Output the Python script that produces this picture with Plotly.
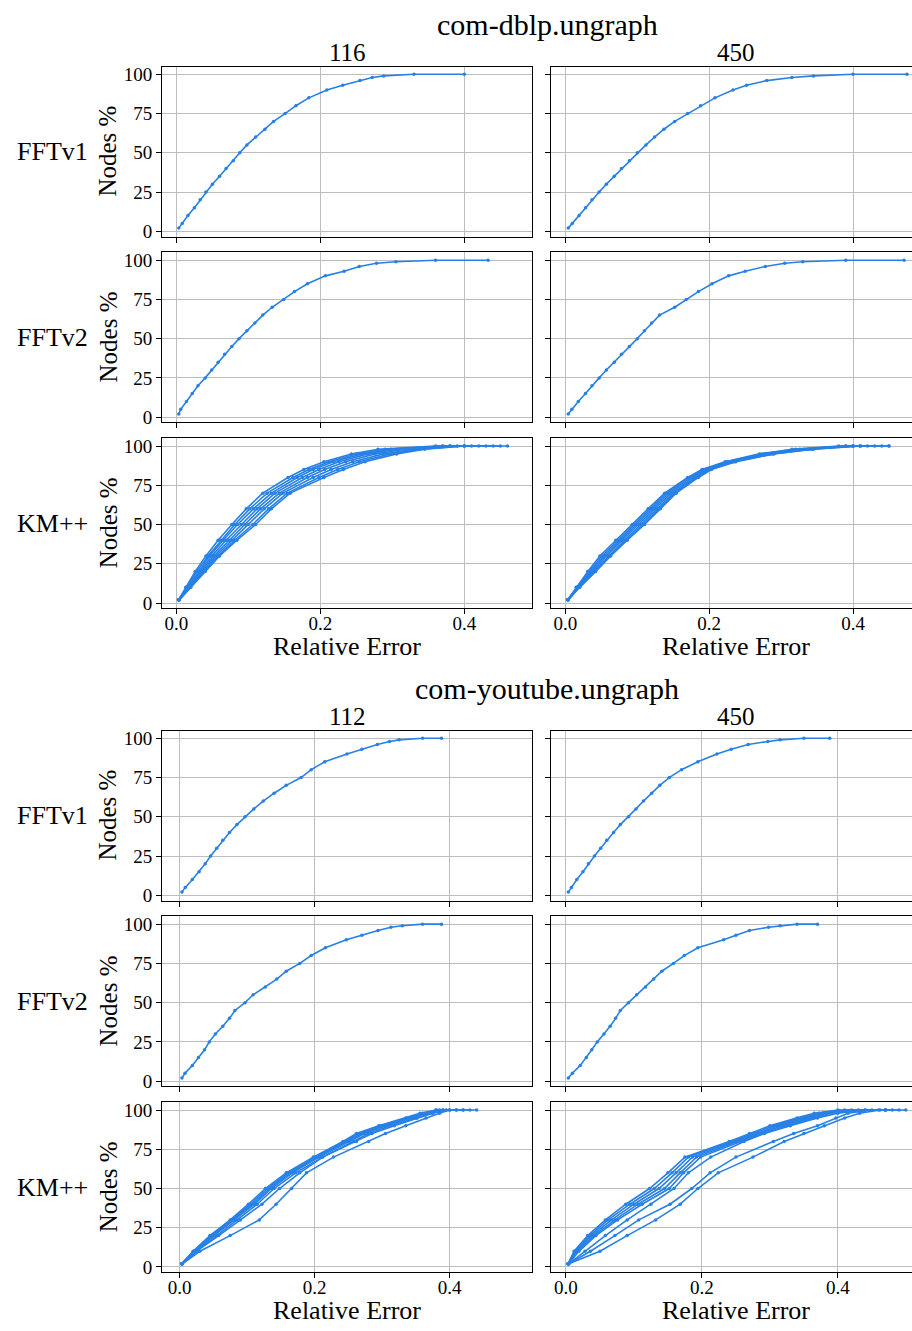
import plotly.graph_objects as go

# ---------------- data ----------------
FFT_LEVELS = [2, 5, 10, 15, 20, 25, 30, 35, 40, 45, 50, 55, 60, 65, 70, 75, 80, 85, 90, 93, 96, 98, 99, 100, 100]
KM_LEVELS = [2, 10, 20, 30, 40, 50, 60, 70, 80, 85, 90, 95, 98, 100, 100]

GROUPS = ["com-dblp.ungraph", "com-youtube.ungraph"]
COLUMNS = {"com-dblp.ungraph": ["116", "450"], "com-youtube.ungraph": ["112", "450"]}
METHODS = ["FFTv1", "FFTv2", "KM++"]
X_TICKS = [0.0, 0.2, 0.4]
X_TICK_LABELS = ["0.0", "0.2", "0.4"]
Y_TICKS = [0, 25, 50, 75, 100]
Y_TICK_LABELS = ["0", "25", "50", "75", "100"]

dblp_116_fftv1 = [0.0033, 0.008, 0.016, 0.025, 0.033, 0.041, 0.050, 0.060, 0.069, 0.079, 0.088, 0.098, 0.110,
                  0.123, 0.135, 0.151, 0.166, 0.184, 0.209, 0.231, 0.255, 0.272, 0.288, 0.33, 0.40]
dblp_450_fftv1 = [0.004, 0.0095, 0.019, 0.028, 0.037, 0.047, 0.057, 0.068, 0.078, 0.089, 0.100, 0.112, 0.124,
                  0.137, 0.152, 0.170, 0.188, 0.208, 0.233, 0.252, 0.280, 0.315, 0.345, 0.40, 0.475]
dblp_116_fftv2 = [0.0033, 0.006, 0.014, 0.022, 0.030, 0.040, 0.049, 0.058, 0.067, 0.077, 0.087, 0.098, 0.109,
                  0.120, 0.133, 0.149, 0.164, 0.182, 0.207, 0.233, 0.254, 0.278, 0.305, 0.36, 0.433]
dblp_450_fftv2 = [0.004, 0.009, 0.018, 0.028, 0.037, 0.047, 0.057, 0.068, 0.078, 0.089, 0.100, 0.110, 0.120,
                  0.131, 0.152, 0.168, 0.185, 0.204, 0.227, 0.250, 0.278, 0.305, 0.33, 0.39, 0.471]
yt_112_fftv1 = [0.0035, 0.0085, 0.019, 0.029, 0.038, 0.046, 0.055, 0.064, 0.074, 0.085, 0.097, 0.110, 0.124,
                0.140, 0.158, 0.180, 0.195, 0.215, 0.248, 0.270, 0.293, 0.311, 0.325, 0.36, 0.388]
yt_450_fftv1 = [0.0035, 0.008, 0.016, 0.025, 0.033, 0.042, 0.051, 0.060, 0.070, 0.080, 0.092, 0.103, 0.114,
                0.126, 0.138, 0.152, 0.170, 0.194, 0.222, 0.243, 0.268, 0.297, 0.315, 0.35, 0.388]
yt_112_fftv2 = [0.0035, 0.008, 0.019, 0.028, 0.037, 0.044, 0.053, 0.064, 0.074, 0.082, 0.097, 0.109, 0.127,
                0.144, 0.158, 0.178, 0.195, 0.216, 0.247, 0.270, 0.294, 0.313, 0.33, 0.36, 0.388]
yt_450_fftv2 = [0.0035, 0.0095, 0.021, 0.030, 0.038, 0.046, 0.056, 0.065, 0.073, 0.080, 0.092, 0.104, 0.117,
                0.129, 0.141, 0.158, 0.174, 0.194, 0.232, 0.250, 0.270, 0.298, 0.315, 0.34, 0.37]

dblp_116_kmpp = [
    [0.003, 0.013, 0.026, 0.041, 0.058, 0.077, 0.097, 0.120, 0.155, 0.177, 0.205, 0.243, 0.280, 0.36, 0.38],
    [0.003, 0.014, 0.028, 0.044, 0.062, 0.081, 0.102, 0.126, 0.162, 0.184, 0.212, 0.250, 0.290, 0.37, 0.40],
    [0.003, 0.015, 0.030, 0.046, 0.065, 0.085, 0.107, 0.132, 0.168, 0.190, 0.218, 0.258, 0.298, 0.37, 0.41],
    [0.003, 0.016, 0.032, 0.049, 0.069, 0.090, 0.112, 0.137, 0.175, 0.198, 0.226, 0.266, 0.308, 0.38, 0.42],
    [0.004, 0.017, 0.034, 0.052, 0.073, 0.095, 0.117, 0.143, 0.182, 0.206, 0.235, 0.276, 0.318, 0.38, 0.43],
    [0.004, 0.018, 0.036, 0.055, 0.077, 0.100, 0.122, 0.148, 0.190, 0.215, 0.245, 0.288, 0.330, 0.39, 0.44],
    [0.004, 0.019, 0.038, 0.058, 0.081, 0.106, 0.128, 0.154, 0.198, 0.224, 0.254, 0.298, 0.338, 0.40, 0.45],
    [0.004, 0.020, 0.040, 0.060, 0.084, 0.110, 0.132, 0.158, 0.205, 0.232, 0.262, 0.306, 0.345, 0.40, 0.46],
]
dblp_450_kmpp = [
    [0.003, 0.015, 0.031, 0.048, 0.070, 0.093, 0.115, 0.138, 0.170, 0.190, 0.222, 0.270, 0.315, 0.38, 0.40],
    [0.003, 0.016, 0.033, 0.051, 0.073, 0.096, 0.118, 0.141, 0.172, 0.192, 0.225, 0.274, 0.320, 0.39, 0.41],
    [0.003, 0.017, 0.035, 0.054, 0.076, 0.099, 0.121, 0.144, 0.175, 0.195, 0.228, 0.278, 0.326, 0.39, 0.42],
    [0.004, 0.018, 0.037, 0.057, 0.079, 0.102, 0.124, 0.147, 0.178, 0.197, 0.230, 0.281, 0.332, 0.40, 0.43],
    [0.004, 0.018, 0.039, 0.060, 0.082, 0.105, 0.127, 0.150, 0.181, 0.200, 0.233, 0.285, 0.338, 0.40, 0.44],
    [0.004, 0.019, 0.040, 0.062, 0.084, 0.108, 0.130, 0.152, 0.183, 0.202, 0.235, 0.288, 0.342, 0.41, 0.45],
    [0.004, 0.020, 0.042, 0.063, 0.086, 0.110, 0.132, 0.154, 0.185, 0.203, 0.237, 0.290, 0.345, 0.41, 0.45],
]
yt_112_kmpp = [
    [0.003, 0.020, 0.045, 0.075, 0.102, 0.127, 0.158, 0.198, 0.242, 0.262, 0.295, 0.335, 0.356, 0.38, 0.40],
    [0.003, 0.021, 0.047, 0.077, 0.105, 0.130, 0.161, 0.201, 0.245, 0.266, 0.298, 0.338, 0.360, 0.38, 0.41],
    [0.003, 0.022, 0.049, 0.079, 0.108, 0.133, 0.164, 0.204, 0.248, 0.270, 0.302, 0.342, 0.364, 0.385, 0.41],
    [0.004, 0.023, 0.051, 0.081, 0.111, 0.136, 0.167, 0.207, 0.252, 0.274, 0.306, 0.345, 0.367, 0.39, 0.42],
    [0.004, 0.024, 0.055, 0.085, 0.115, 0.140, 0.172, 0.212, 0.258, 0.280, 0.312, 0.350, 0.372, 0.39, 0.42],
    [0.004, 0.025, 0.058, 0.090, 0.122, 0.148, 0.178, 0.212, 0.262, 0.285, 0.318, 0.352, 0.375, 0.395, 0.43],
    [0.004, 0.030, 0.075, 0.118, 0.143, 0.166, 0.188, 0.228, 0.280, 0.305, 0.335, 0.365, 0.385, 0.40, 0.44],
]
yt_450_kmpp = [
    [0.003, 0.012, 0.032, 0.058, 0.088, 0.123, 0.150, 0.175, 0.240, 0.270, 0.300, 0.340, 0.365, 0.40, 0.50],
    [0.003, 0.013, 0.035, 0.062, 0.094, 0.130, 0.156, 0.180, 0.244, 0.275, 0.306, 0.346, 0.372, 0.41, 0.49],
    [0.003, 0.015, 0.038, 0.067, 0.100, 0.137, 0.162, 0.186, 0.248, 0.280, 0.312, 0.352, 0.378, 0.42, 0.48],
    [0.004, 0.017, 0.041, 0.072, 0.106, 0.145, 0.168, 0.192, 0.252, 0.285, 0.318, 0.358, 0.384, 0.43, 0.47],
    [0.004, 0.019, 0.044, 0.076, 0.112, 0.152, 0.173, 0.198, 0.257, 0.290, 0.324, 0.364, 0.390, 0.44, 0.46],
    [0.004, 0.028, 0.058, 0.090, 0.125, 0.159, 0.180, 0.213, 0.262, 0.292, 0.330, 0.370, 0.400, 0.44, 0.47],
    [0.004, 0.036, 0.072, 0.107, 0.153, 0.185, 0.212, 0.250, 0.305, 0.335, 0.370, 0.397, 0.415, 0.45, 0.47],
    [0.004, 0.050, 0.090, 0.132, 0.168, 0.194, 0.224, 0.275, 0.321, 0.350, 0.380, 0.410, 0.432, 0.462, 0.47],
]

PANEL_DATA = {
    ("com-dblp.ungraph", 0): [[dblp_116_fftv1], [dblp_116_fftv2], dblp_116_kmpp],
    ("com-dblp.ungraph", 1): [[dblp_450_fftv1], [dblp_450_fftv2], dblp_450_kmpp],
    ("com-youtube.ungraph", 0): [[yt_112_fftv1], [yt_112_fftv2], yt_112_kmpp],
    ("com-youtube.ungraph", 1): [[yt_450_fftv1], [yt_450_fftv2], yt_450_kmpp],
}

# ---------------- layout geometry (pixels) ----------------
W, H = 912, 1331
COLOR = "#2780e6"
FONT = "Liberation Serif"
COL_PX = [(162, 532), (551, 912)]
ROW_PX = {"com-dblp.ungraph": [(64, 235), (251, 422), (438, 609)],
          "com-youtube.ungraph": [(732, 903), (919, 1090), (1106, 1277)]}
X_RANGES = {("com-dblp.ungraph", 0): [-0.020, 0.494], ("com-dblp.ungraph", 1): [-0.020, 0.482],
            ("com-youtube.ungraph", 0): [-0.026, 0.522], ("com-youtube.ungraph", 1): [-0.022, 0.509]}
Y_RANGE = [-3.4, 104.9]
TITLE_Y = {"com-dblp.ungraph": 22, "com-youtube.ungraph": 690}
COLTITLE_Y = {"com-dblp.ungraph": 50, "com-youtube.ungraph": 718}
XLABEL_Y = {"com-dblp.ungraph": 647, "com-youtube.ungraph": 1315}


def px_x(p):
    return p / W


def px_y(p):
    return 1 - p / H


fig = go.Figure()
annotations = []
idx = 0
for g in GROUPS:
    for r, method in enumerate(METHODS):
        for c in range(2):
            idx += 1
            xa = "x" if idx == 1 else f"x{idx}"
            ya = "y" if idx == 1 else f"y{idx}"
            levels = KM_LEVELS if method == "KM++" else FFT_LEVELS
            for curve in PANEL_DATA[(g, c)][r]:
                fig.add_trace(go.Scatter(
                    x=curve, y=levels, mode="lines+markers", xaxis=xa, yaxis=ya,
                    line=dict(color=COLOR, width=1.6),
                    marker=dict(color=COLOR, size=3.5),
                    showlegend=False, hoverinfo="skip"))
            top, bot = ROW_PX[g][r]
            left, right = COL_PX[c]
            bottom_row = r == 2
            xkey = "xaxis" if idx == 1 else f"xaxis{idx}"
            ykey = "yaxis" if idx == 1 else f"yaxis{idx}"
            fig.update_layout(**{
                xkey: dict(domain=[px_x(left), px_x(right)], anchor=ya, range=X_RANGES[(g, c)],
                           tickvals=X_TICKS, ticktext=X_TICK_LABELS, showticklabels=bottom_row,
                           ticks="outside", ticklen=5, tickcolor="black", tickwidth=1,
                           ticklabelstandoff=-7,
                           showline=True, linecolor="black", linewidth=1, mirror=True,
                           showgrid=True, gridcolor="#bdbdbd", gridwidth=1, zeroline=False,
                           tickfont=dict(family=FONT, size=19, color="black")),
                ykey: dict(domain=[px_y(bot), px_y(top)], anchor=xa, range=Y_RANGE,
                           tickvals=Y_TICKS, ticktext=Y_TICK_LABELS, showticklabels=(c == 0),
                           ticks="outside", ticklen=5, tickcolor="black", tickwidth=1,
                           showline=True, linecolor="black", linewidth=1, mirror=(c == 0),
                           showgrid=True, gridcolor="#bdbdbd", gridwidth=1, zeroline=False,
                           tickfont=dict(family=FONT, size=19, color="black")),
            })
            if c == 0:
                cy = (top + bot) / 2
                annotations.append(dict(text=method, x=px_x(52), y=px_y(cy), xref="paper", yref="paper",
                                        showarrow=False, xanchor="center", yanchor="middle",
                                        font=dict(family=FONT, size=26, color="black")))
                annotations.append(dict(text="Nodes %", x=px_x(108), y=px_y(cy), xref="paper", yref="paper",
                                        showarrow=False, xanchor="center", yanchor="middle", textangle=-90,
                                        font=dict(family=FONT, size=25, color="black")))
    # group titles
    annotations.append(dict(text=g, x=px_x(547), y=px_y(TITLE_Y[g]), xref="paper", yref="paper",
                            showarrow=False, xanchor="center", yanchor="middle",
                            font=dict(family=FONT, size=30, color="black")))
    for c in range(2):
        cx = (COL_PX[c][0] + (COL_PX[c][0] + 370)) / 2
        annotations.append(dict(text=COLUMNS[g][c], x=px_x(cx), y=px_y(COLTITLE_Y[g]), xref="paper", yref="paper",
                                showarrow=False, xanchor="center", yanchor="middle",
                                font=dict(family=FONT, size=25, color="black")))
        annotations.append(dict(text="Relative Error", x=px_x(cx), y=px_y(XLABEL_Y[g]), xref="paper", yref="paper",
                                showarrow=False, xanchor="center", yanchor="middle",
                                font=dict(family=FONT, size=26, color="black")))

fig.update_layout(width=W, height=H, autosize=False,
                  margin=dict(l=0, r=0, t=0, b=0),
                  paper_bgcolor="white", plot_bgcolor="white",
                  annotations=annotations, showlegend=False)

fig.write_html("out.html")
